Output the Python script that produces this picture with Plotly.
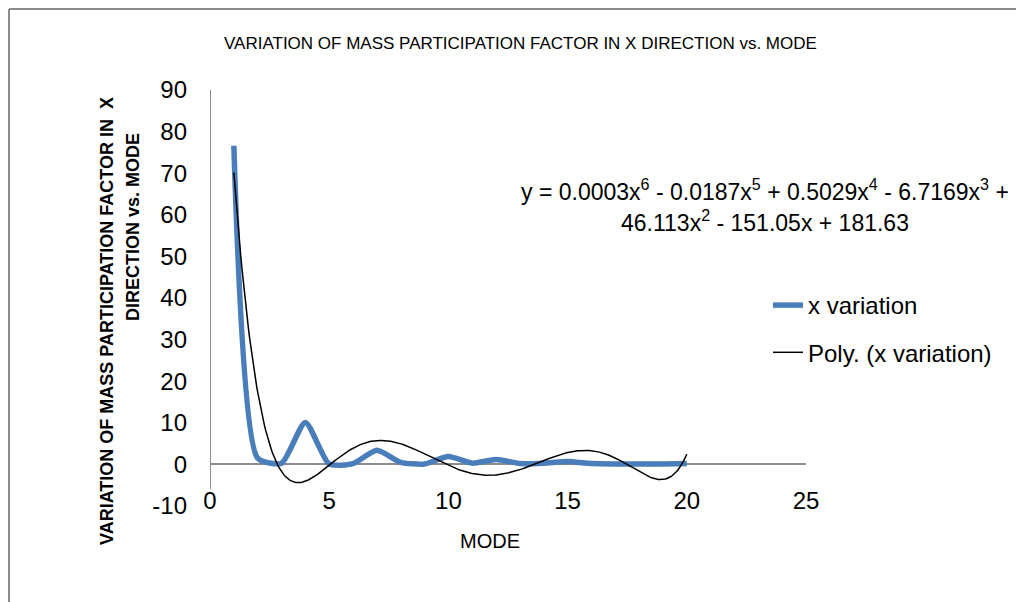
import numpy as np
import plotly.graph_objects as go

# ---- data ----
modes = list(range(1, 21))
x_variation = [76.6, 1.5, 0.3, 10.1, 0.1, 0.2, 3.4, 0.5, 0.1, 1.9,
               0.3, 1.2, 0.2, 0.3, 0.7, 0.2, 0.1, 0.1, 0.1, 0.2]
x_ticks = [0, 5, 10, 15, 20, 25]
y_ticks = [-10, 0, 10, 20, 30, 40, 50, 60, 70, 80, 90]

title_text = "VARIATION OF MASS PARTICIPATION FACTOR IN X DIRECTION vs. MODE"
ytitle_l1 = "VARIATION OF MASS PARTICIPATION FACTOR IN  X"
ytitle_l2 = "DIRECTION vs. MODE"
xtitle = "MODE"
eq_l1 = "y = 0.0003x<sup>6</sup> - 0.0187x<sup>5</sup> + 0.5029x<sup>4</sup> - 6.7169x<sup>3</sup> +"
eq_l2 = "46.113x<sup>2</sup> - 151.05x + 181.63"

# 6th order polynomial trendline (least squares, as the spreadsheet does)
coef = np.polyfit(modes, x_variation, 6)
trend_x = np.linspace(1, 20, 400)
trend_y = np.polyval(coef, trend_x)

FONT = "Liberation Sans, Arial, sans-serif"
BLUE = "#4A7EBB"

fig = go.Figure()
fig.add_trace(go.Scatter(
    x=modes, y=x_variation, mode="lines", name="x variation",
    line=dict(color=BLUE, width=5.5, shape="spline", smoothing=0.6),
    legendgroup="a"))
fig.add_trace(go.Scatter(
    x=trend_x, y=trend_y, mode="lines", name="Poly. (x variation)",
    line=dict(color="black", width=1.5), legendgroup="b"))

# page body has an 8px margin: compensate
OFF = 8
W, H = 1024 - OFF, 602 - OFF
# plot area geometry (reference pixels)
L, R, T, B = 210, 806, 90, 506
pw, ph = R - L, B - T

def px(xp):
    return (xp - L) / pw

def py(yp):
    return (B - yp) / ph

fig.update_layout(
    width=W, height=H,
    margin=dict(l=L - OFF, r=W - (R - OFF), t=T - OFF, b=H - (B - OFF), autoexpand=False),
    paper_bgcolor="white", plot_bgcolor="white",
    font=dict(family=FONT, size=24, color="black"),
    showlegend=True,
    legend=dict(x=px(768), y=py(283), xanchor="left", yanchor="top",
                font=dict(size=24), traceorder="grouped", tracegroupgap=13,
                bgcolor="rgba(0,0,0,0)"),
    xaxis=dict(range=[0, 25], tickvals=x_ticks, ticktext=[str(v) for v in x_ticks],
               showgrid=False, zeroline=False, showline=False, ticks="",
               anchor="free", position=py(484),
               tickfont=dict(size=24, family=FONT)),
    yaxis=dict(range=[-10, 90], tickvals=y_ticks, ticktext=[str(v) for v in y_ticks],
               showgrid=False, zeroline=True, zerolinecolor="#8c8c8c", zerolinewidth=2,
               showline=False, ticks="", ticklabelstandoff=22,
               tickfont=dict(size=24, family=FONT)),
)

# y axis line (ends slightly above the bottom, as in the reference)
fig.add_shape(type="line", xref="x", yref="paper", x0=0, x1=0,
              y0=py(489), y1=1, line=dict(color="#8c8c8c", width=2))
# chart frame (top and left edges visible)
fig.add_shape(type="line", xref="paper", yref="paper", x0=px(9), x1=px(1040),
              y0=py(9), y1=py(9), line=dict(color="#8c8c8c", width=2))
fig.add_shape(type="line", xref="paper", yref="paper", x0=px(9), x1=px(9),
              y0=py(9), y1=py(620), line=dict(color="#8c8c8c", width=2))

ann = []
ann.append(dict(text=title_text, x=px(520), y=py(43), xref="paper", yref="paper",
                showarrow=False, font=dict(size=17, family=FONT), xanchor="center", yanchor="middle"))
ann.append(dict(text="<b>" + ytitle_l1 + "</b>", x=px(107), y=py(321), xref="paper", yref="paper",
                showarrow=False, textangle=-90, font=dict(size=18, family=FONT),
                xanchor="center", yanchor="middle"))
ann.append(dict(text="<b>" + ytitle_l2 + "</b>", x=px(133), y=py(227), xref="paper", yref="paper",
                showarrow=False, textangle=-90, font=dict(size=18, family=FONT),
                xanchor="center", yanchor="middle"))
ann.append(dict(text=xtitle, x=px(490), y=py(541), xref="paper", yref="paper",
                showarrow=False, font=dict(size=20, family=FONT), xanchor="center", yanchor="middle"))
ann.append(dict(text=eq_l1, x=px(765), y=py(190), xref="paper", yref="paper",
                showarrow=False, font=dict(size=23, family=FONT), xanchor="center", yanchor="middle"))
ann.append(dict(text=eq_l2, x=px(765), y=py(221), xref="paper", yref="paper",
                showarrow=False, font=dict(size=23, family=FONT), xanchor="center", yanchor="middle"))
fig.update_layout(annotations=ann)

fig.write_html("out.html")
